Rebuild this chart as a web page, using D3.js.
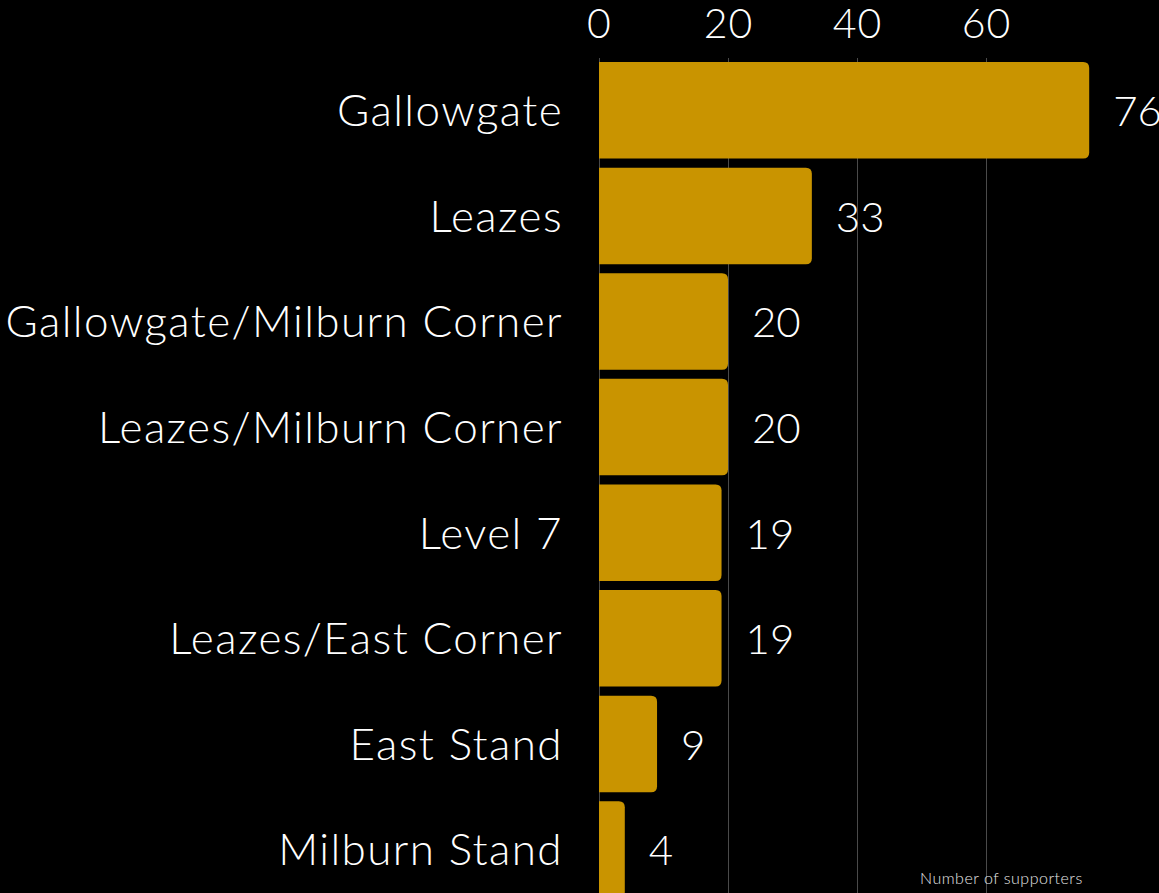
<!DOCTYPE html>
<html>
<head>
<meta charset="utf-8">
<script src="https://cdn.jsdelivr.net/npm/d3@7"></script>
<style>
  html, body { margin: 0; padding: 0; background: #000; overflow: hidden; }
  svg { display: block; }
  text { font-family: "Lato", "Open Sans", sans-serif; font-weight: 300; fill: #fff; }
</style>
</head>
<body>
<svg id="chart"></svg>
<script>
// data
const stands = ["Gallowgate", "Leazes", "Gallowgate/Milburn Corner", "Leazes/Milburn Corner",
                "Level 7", "Leazes/East Corner", "East Stand", "Milburn Stand"]
const supporters = [76, 33, 20, 20, 19, 19, 9, 4]
const tickValues = [0, 20, 40, 60]
const axisTitle = "Number of supporters"

const W = 1159, H = 893
let svg = d3.select("#chart").attr("width", W).attr("height", H)
svg.append("rect").attr("width", W).attr("height", H).attr("fill", "#000")

let rows = stands.map((s, i) => ({name: s, value: supporters[i]}))

let x = d3.scaleLinear().domain([0, 20]).range([599, 728])
let y = d3.scaleBand().domain(stands).range([57.5, 902.3]).paddingInner(0.086).paddingOuter(0.043)

// gridlines
svg.append("g").selectAll("line").data(tickValues)
  .enter().append("line")
  .attr("x1", d => x(d) + 0.5).attr("x2", d => x(d) + 0.5)
  .attr("y1", 58).attr("y2", H)
  .attr("stroke", "#4a4a4a").attr("stroke-width", 1)

// top axis tick labels
let xAxis = d3.axisTop(x).tickValues(tickValues).tickSize(0).tickPadding(0)
let ax = svg.append("g").attr("transform", "translate(0,38)").call(xAxis)
ax.select(".domain").remove()
ax.selectAll("text").attr("font-size", 41).attr("fill", "#fff").attr("dy", 0)
  .attr("font-family", "Lato, 'Open Sans', sans-serif").attr("font-weight", 300)
  .attr("letter-spacing", 1)

// bars, rounded at the right end only
function barPath(d) {
  let x0 = x(0), x1 = x(d.value), y0 = y(d.name), h = y.bandwidth()
  let r = Math.min(6, (x1 - x0) / 2)
  return "M" + x0 + "," + y0 +
         "H" + (x1 - r) + "Q" + x1 + "," + y0 + " " + x1 + "," + (y0 + r) +
         "V" + (y0 + h - r) + "Q" + x1 + "," + (y0 + h) + " " + (x1 - r) + "," + (y0 + h) +
         "H" + x0 + "Z"
}
svg.append("g").selectAll("path").data(rows)
  .enter().append("path")
  .attr("d", barPath)
  .attr("fill", "#c99400")

// category labels
svg.append("g").selectAll("text").data(rows)
  .enter().append("text")
  .attr("x", x(0) - 36)
  .attr("y", d => y(d.name) + y.bandwidth() / 2)
  .attr("dy", "0.36em")
  .attr("text-anchor", "end")
  .attr("font-size", 44)
  .attr("letter-spacing", 1.4)
  .text(d => d.name)

// value labels
svg.append("g").selectAll("text").data(rows)
  .enter().append("text")
  .attr("x", d => x(d.value) + 24)
  .attr("y", d => y(d.name) + y.bandwidth() / 2)
  .attr("dy", "0.38em")
  .attr("font-size", 42)
  .text(d => d.value)

svg.append("text")
  .attr("x", 920).attr("y", 884)
  .attr("font-size", 16)
  .attr("font-weight", 400)
  .attr("letter-spacing", 0.5)
  .style("fill", "#e6e6e6")
  .text(axisTitle)
</script>
</body>
</html>
